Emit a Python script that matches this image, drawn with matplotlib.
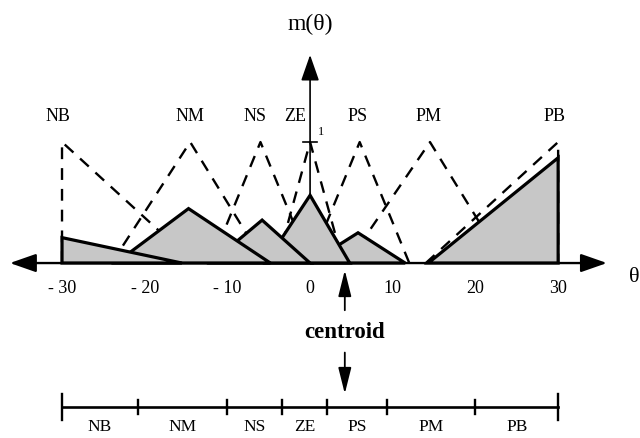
import matplotlib
matplotlib.use("Agg")
import matplotlib.pyplot as plt
from matplotlib.patches import Polygon

# fuzzy sets over theta: (left foot, peak, right foot), dashed membership functions
SETS = ["NB", "NM", "NS", "ZE", "PS", "PM", "PB"]
SET_LEFT = [-30, -24, -12, -4, 0, 4.5, 14]
SET_PEAK = [-30, -14.5, -6, 0, 6, 14.5, 30]
SET_RIGHT = [-14, -5.5, 0, 4, 12, 23.5, 30]
LABEL_X = [-30.5, -14.5, -6.6, -1.8, 5.8, 14.3, 29.6]

# scaled output sets (shaded); PM fired at 0
OUT_LEFT = [-30, -23.5, -12, -5.4, 0, None, 14.3]
OUT_PEAK = [-30, -14.7, -5.8, 0, 5.8, None, 30]
OUT_RIGHT = [-15.5, -4.8, 0, 4.8, 11.5, None, 30]
OUT_HEIGHT = [0.21, 0.45, 0.355, 0.56, 0.25, 0.0, 0.87]

TICKS = [-30, -20, -10, 0, 10, 20, 30]
TICK_LABELS = ["- 30", "- 20", "- 10", "0", "10", "20", "30"]

CENTROID = 4.2
# crisp partition shown underneath
BAR_EDGES = [-30, -20.8, -10, -3.4, 2.1, 9.3, 20, 30]

plt.rcParams["font.family"] = ["Liberation Serif", "DejaVu Serif"]
fig = plt.figure(figsize=(6.4, 4.38), dpi=100)
ax = fig.add_axes([0, 0, 1, 1])
ax.set_xlim(-37.5, 39.9)
ax.set_ylim(-1.446, 2.174)
ax.axis("off")

DASH = dict(color="k", lw=1.7, dashes=(5, 3.8), zorder=1)

# dashed membership functions
for lab, lx, l, p, r in zip(SETS, LABEL_X, SET_LEFT, SET_PEAK, SET_RIGHT):
    if l == p:
        ax.plot([l, l, r], [0, 1, 0], **DASH)
    elif r == p:
        ax.plot([l, r, r], [0, 1, 0], **DASH)
    else:
        ax.plot([l, p, r], [0, 1, 0], **DASH)
    ax.text(lx, 1.21, lab, ha="center", va="center", fontsize=13)

# shaded scaled sets, right to left so each left one sits on top
for i in reversed(range(len(SETS))):
    h = OUT_HEIGHT[i]
    if h <= 0:
        continue
    verts = [(OUT_LEFT[i], 0), (OUT_PEAK[i], h), (OUT_RIGHT[i], 0)]
    ax.add_patch(Polygon(verts, closed=True, facecolor="0.78", edgecolor="k",
                         lw=2.3, joinstyle="miter", zorder=3 + (len(SETS) - i)))

# axes with arrows (vertical one sits behind the shaded sets)
ax.annotate("", xy=(-36.3, 0), xytext=(35.9, 0),
            arrowprops=dict(arrowstyle="<|-|>,head_length=0.8,head_width=0.28",
                            lw=1.7, color="k", mutation_scale=20,
                            shrinkA=0, shrinkB=0), zorder=12)
ax.annotate("", xy=(0, 1.72), xytext=(0, 0),
            arrowprops=dict(arrowstyle="-|>,head_length=0.8,head_width=0.28",
                            lw=1.2, color="k", mutation_scale=20,
                            shrinkA=0, shrinkB=0), zorder=2)
ax.plot([-0.8, 0.8], [1, 1], color="k", lw=1.2, zorder=2)
ax.text(1.0, 1.08, "1", ha="left", va="center", fontsize=9)
ax.text(0, 1.97, "m(θ)", ha="center", va="center", fontsize=17)
ax.text(38.6, -0.12, "θ", ha="left", va="center", fontsize=16)

for t, s in zip(TICKS, TICK_LABELS):
    ax.text(t, -0.21, s, ha="center", va="center", fontsize=13)

# centroid markers
ax.annotate("", xy=(CENTROID, -0.06), xytext=(CENTROID, -0.39),
            arrowprops=dict(arrowstyle="-|>,head_length=0.8,head_width=0.2",
                            lw=1.3, color="k", mutation_scale=20,
                            shrinkA=0, shrinkB=0))
ax.text(CENTROID, -0.57, "centroid", ha="center", va="center", fontsize=16.5,
        fontweight="bold")
ax.annotate("", xy=(CENTROID, -1.08), xytext=(CENTROID, -0.74),
            arrowprops=dict(arrowstyle="-|>,head_length=0.8,head_width=0.2",
                            lw=1.3, color="k", mutation_scale=20,
                            shrinkA=0, shrinkB=0))

# partition bar
ax.plot([BAR_EDGES[0], BAR_EDGES[-1]], [-1.19, -1.19], color="k", lw=1.9)
for k, e in enumerate(BAR_EDGES):
    d = 0.11 if k in (0, len(BAR_EDGES) - 1) else 0.055
    ax.plot([e, e], [-1.19 - d, -1.19 + d], color="k", lw=1.7)
for lab, a, b in zip(SETS, BAR_EDGES[:-1], BAR_EDGES[1:]):
    ax.text((a + b) / 2, -1.355, lab, ha="center", va="center", fontsize=12.5)

fig.savefig("out.png", dpi=100)
